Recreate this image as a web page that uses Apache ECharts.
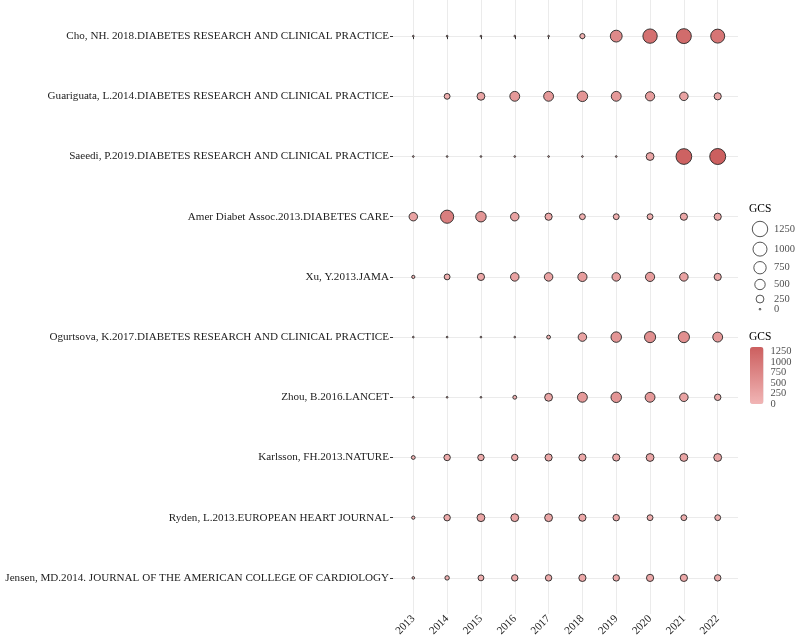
<!DOCTYPE html>
<html><head><meta charset="utf-8">
<script src="https://cdn.jsdelivr.net/npm/echarts@6/dist/echarts.min.js"></script>
<style>html,body{margin:0;padding:0;background:#fff}#c{width:800px;height:640px}</style>
</head><body><div id="c"></div>
<script>
const years = [2013, 2014, 2015, 2016, 2017, 2018, 2019, 2020, 2021, 2022];
const papers = [
  'Cho, NH. 2018.DIABETES RESEARCH AND CLINICAL PRACTICE',
  'Guariguata, L.2014.DIABETES RESEARCH AND CLINICAL PRACTICE',
  'Saeedi, P.2019.DIABETES RESEARCH AND CLINICAL PRACTICE',
  'Amer Diabet Assoc.2013.DIABETES CARE',
  'Xu, Y.2013.JAMA',
  'Ogurtsova, K.2017.DIABETES RESEARCH AND CLINICAL PRACTICE',
  'Zhou, B.2016.LANCET',
  'Karlsson, FH.2013.NATURE',
  'Ryden, L.2013.EUROPEAN HEART JOURNAL',
  'Jensen, MD.2014. JOURNAL OF THE AMERICAN COLLEGE OF CARDIOLOGY'
];
// GCS per year (2013..2022), null = no point
const cho        = [0, 0, 0, 0, 0, 80, 680, 1060, 1150, 1000];
const guariguata = [null, 115, 250, 440, 440, 510, 440, 370, 305, 200];
const saeedi     = [0, 0, 0, 0, 0, 0, 0, 250, 1300, 1350];
const amer       = [300, 870, 510, 305, 200, 115, 115, 115, 200, 200];
const xu         = [15, 115, 200, 305, 305, 370, 305, 370, 305, 200];
const ogurtsova  = [0, 0, 0, 0, 30, 305, 510, 590, 590, 440];
const zhou       = [0, 0, 0, 30, 250, 440, 510, 440, 305, 150];
const karlsson   = [30, 150, 150, 150, 200, 200, 200, 250, 250, 250];
const ryden      = [15, 150, 250, 250, 250, 200, 150, 115, 115, 115];
const jensen     = [5, 50, 115, 150, 150, 200, 150, 200, 200, 150];
const sizeLegendValues = [1250, 1000, 750, 500, 250, 0];
const colorTicks = [0, 250, 500, 750, 1000, 1250];

const rows = [cho, guariguata, saeedi, amer, xu, ogurtsova, zhou, karlsson, ryden, jensen];
const mainData = [];
rows.forEach((r, i) => r.forEach((v, j) => { if (v !== null) mainData.push([years[j], i, v]); }));
const vmax = Math.max(...mainData.map(d => d[2]));
const LW = 0.9;
const diam = v => 2.6 + 14.3 * Math.sqrt(v / vmax);
const symSize = v => Math.max(diam(v) - LW, 0.8);

// size legend key layout (key heights grow with symbol size)
const keyH = v => diam(v) + 4.5;
const legendData = [];
let cy = 229;
sizeLegendValues.forEach((v, i) => {
  if (i > 0) cy += (keyH(sizeLegendValues[i - 1]) + keyH(v)) / 2;
  legendData.push([15, cy, v]);
});

const serif = 'Liberation Serif';
const txt = {fontFamily: serif, fontSize: 11.1, color: '#222'};
const idx = papers.map((p, i) => i);

const chart = echarts.init(document.getElementById('c'), null, {renderer: 'canvas'});
chart.setOption({
  animation: false,
  backgroundColor: '#fff',
  title: [
    {text: 'GCS', left: 749, top: 203, padding: 0, textStyle: {fontFamily: serif, fontSize: 11.5, fontWeight: 'normal', color: '#000'}},
    {text: 'GCS', left: 749, top: 331, padding: 0, textStyle: {fontFamily: serif, fontSize: 11.5, fontWeight: 'normal', color: '#000'}}
  ],
  grid: [
    {left: 393, top: 0, width: 345, height: 614, containLabel: false, outerBoundsMode: 'none'},
    {left: 745, top: 0, width: 30, height: 640, containLabel: false, outerBoundsMode: 'none'},
    {left: 750, top: 347, width: 13.5, height: 57, containLabel: false, outerBoundsMode: 'none'}
  ],
  xAxis: [
    {gridIndex: 0, type: 'value', min: 2012.4, max: 2022.6,
     axisLine: {show: false},
     axisTick: {show: true, customValues: years, length: 3, lineStyle: {color: '#333', width: 1}},
     axisLabel: {customValues: years, rotate: 45, margin: 3, formatter: v => String(Math.round(v)), ...txt},
     splitLine: {show: true, lineStyle: {color: '#EBEBEB', width: 1}}},
    {gridIndex: 1, type: 'value', min: 0, max: 30, show: false},
    {gridIndex: 2, type: 'value', min: 0, max: 1, show: false}
  ],
  yAxis: [
    {gridIndex: 0, type: 'value', inverse: true, min: -0.6, max: 9.6,
     axisLine: {show: false},
     axisTick: {show: true, customValues: idx, length: 3, lineStyle: {color: '#333', width: 1}},
     axisLabel: {customValues: idx, margin: 4, formatter: v => papers[Math.round(v)] || '', ...txt},
     splitLine: {show: true, lineStyle: {color: '#EBEBEB', width: 1}}},
    {gridIndex: 1, type: 'value', inverse: true, min: 0, max: 640, show: false},
    {gridIndex: 2, type: 'value', min: 0, max: vmax, position: 'right',
     axisLine: {show: false},
     axisTick: {show: true, inside: true, customValues: colorTicks, length: 3, lineStyle: {color: '#fff', width: 1}},
     axisLabel: {show: false},
     splitLine: {show: false}}
  ],
  visualMap: {
    type: 'continuous', seriesIndex: 0, dimension: 2, min: 0, max: vmax,
    left: 750, top: 347, itemWidth: 13.5, itemHeight: 57, padding: 0,
    calculable: false, hoverLink: false, text: null,
    inRange: {color: ['#F1B5B5', '#CC5F5F']}
  },
  series: [
    {type: 'scatter', xAxisIndex: 0, yAxisIndex: 0, data: mainData,
     symbol: 'circle', symbolSize: d => symSize(d[2]),
     itemStyle: {borderColor: '#262626', borderWidth: LW, opacity: 1},
     emphasis: {disabled: true}},
    {type: 'scatter', xAxisIndex: 1, yAxisIndex: 1, data: legendData,
     symbol: 'circle', symbolSize: d => symSize(d[2]),
     itemStyle: {color: '#fff', borderColor: '#111', borderWidth: LW},
     label: {show: true, position: 'inside', align: 'left', offset: [14, 0],
             formatter: p => String(p.value[2]), fontFamily: serif, fontSize: 10.5, color: '#222'},
     emphasis: {disabled: true}},
    {type: 'scatter', xAxisIndex: 2, yAxisIndex: 2, data: colorTicks.map(v => [1, v]),
     symbol: 'circle', symbolSize: 2, itemStyle: {color: 'rgba(0,0,0,0)'}, silent: true, z: 10,
     label: {show: true, position: 'right', distance: 6,
             formatter: p => String(p.value[1]), fontFamily: serif, fontSize: 10.5, color: '#222'},
     emphasis: {disabled: true}}
  ]
});
</script></body></html>
